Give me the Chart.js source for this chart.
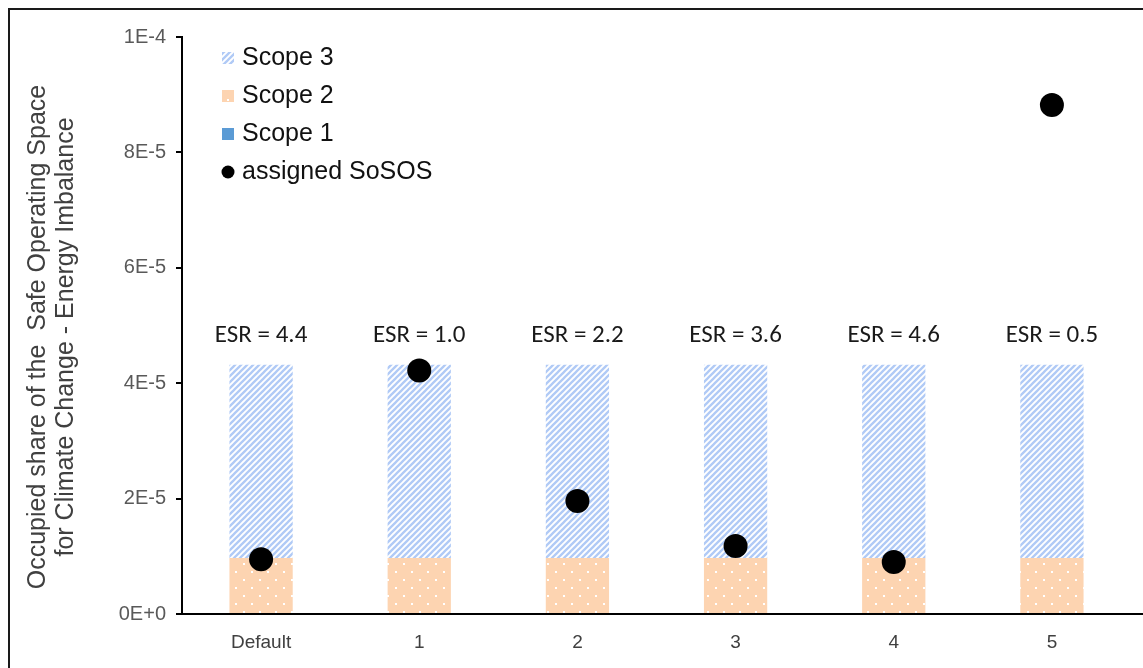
<!DOCTYPE html>
<html>
<head>
<meta charset="utf-8">
<script src="https://cdn.jsdelivr.net/npm/chart.js@4.4.1/dist/chart.umd.min.js"></script>
<style>
  html, body { margin: 0; padding: 0; background: #fff; overflow: hidden; }
  #frame { position: absolute; left: 8px; top: 8px; width: 1200px; height: 720px; border: 2px solid #1a1a1a; box-sizing: border-box; }
  #wrap { position: absolute; left: 0; top: 0; width: 1143px; height: 668px; }
</style>
</head>
<body>
<div id="frame"></div>
<div id="wrap"><canvas id="chart"></canvas></div>
<script>
// ── DATA ──────────────────────────────────────────────────────────────────────
const categories = ['Default', '1', '2', '3', '4', '5'];
const scope1     = [0, 0, 0, 0, 0, 0];
const scope2     = [9.7e-6, 9.7e-6, 9.7e-6, 9.7e-6, 9.7e-6, 9.7e-6];
const scope3     = [3.35e-5, 3.35e-5, 3.35e-5, 3.35e-5, 3.35e-5, 3.35e-5];
const sosos      = [9.5e-6, 4.22e-5, 1.96e-5, 1.18e-5, 9.0e-6, 8.82e-5];
const esr        = ['4.4', '1.0', '2.2', '3.6', '4.6', '0.5'];
const yTitle     = ['Occupied share of the  Safe Operating Space', 'for Climate Change - Energy Imbalance'];

const ARIAL = '"Liberation Sans", Arial, sans-serif';

// ── PATTERNS ──────────────────────────────────────────────────────────────────
function makeTile(w, h, draw) {
  const c = document.createElement('canvas');
  c.width = w; c.height = h;
  draw(c.getContext('2d'));
  return document.createElement('canvas').getContext('2d').createPattern(c, 'repeat');
}
const stripes = makeTile(6, 6, g => {
  g.fillStyle = '#ffffff'; g.fillRect(0, 0, 6, 6);
  g.strokeStyle = '#b0caf6'; g.lineWidth = 2.3;
  [[-1, 7, 7, -1], [-1, 1, 1, -1], [5, 7, 7, 5]].forEach(([x1, y1, x2, y2]) => {
    g.beginPath(); g.moveTo(x1, y1); g.lineTo(x2, y2); g.stroke();
  });
});
const dots = makeTile(16, 16, g => {
  g.fillStyle = '#fdd4b1'; g.fillRect(0, 0, 16, 16);
  g.fillStyle = '#ffffff';
  g.fillRect(3, 3, 2, 2);
  g.fillRect(11, 11, 2, 2);
});

// ── PLUGINS ───────────────────────────────────────────────────────────────────
const extras = {
  id: 'extras',
  afterDraw(chart) {
    const { ctx, scales: { x, y }, chartArea } = chart;
    ctx.save();

    // x axis runs on to the edge
    ctx.strokeStyle = '#000'; ctx.lineWidth = 2;
    ctx.beginPath(); ctx.moveTo(chartArea.right - 1, y.getPixelForValue(0)); ctx.lineTo(chart.width, y.getPixelForValue(0)); ctx.stroke();

    // ESR labels above each stack
    ctx.fillStyle = '#1a1a1a';
    ctx.font = '25px Carlito, Lato, "Liberation Sans", sans-serif';
    ctx.textAlign = 'center'; ctx.textBaseline = 'middle';
    categories.forEach((c, i) => {
      const top = y.getPixelForValue(scope1[i] + scope2[i] + scope3[i]);
      ctx.fillText('ESR = ' + esr[i], x.getPixelForValue(i), top - 29);
    });

    // y title
    ctx.fillStyle = '#404040';
    ctx.font = '25px ' + ARIAL;
    ctx.translate(38, 337); ctx.rotate(-Math.PI / 2);
    ctx.fillText(yTitle[0], 0, 0);
    ctx.fillText(yTitle[1], 0, 28);
    ctx.restore();

    // legend
    ctx.save();
    const order = [2, 1, 0, 3];
    ctx.font = '25px ' + ARIAL;
    ctx.textAlign = 'left'; ctx.textBaseline = 'middle';
    order.forEach((di, k) => {
      const ds = chart.data.datasets[di];
      const cy = 58 + k * 38;
      if (ds.type === 'line') {
        ctx.fillStyle = '#000';
        ctx.beginPath(); ctx.arc(228, cy, 6.5, 0, Math.PI * 2); ctx.fill();
      } else {
        ctx.fillStyle = ds.backgroundColor;
        ctx.fillRect(222, cy - 6, 12, 12);
      }
      ctx.fillStyle = '#111';
      ctx.fillText(ds.label, 242, cy);
    });
    ctx.restore();
  }
};

// ── CHART ─────────────────────────────────────────────────────────────────────
new Chart(document.getElementById('chart'), {
  type: 'bar',
  data: {
    labels: categories,
    datasets: [
      { label: 'Scope 1', data: scope1, backgroundColor: '#5b9bd5', stack: 's', order: 2 },
      { label: 'Scope 2', data: scope2, backgroundColor: dots, stack: 's', order: 2 },
      { label: 'Scope 3', data: scope3, backgroundColor: stripes, stack: 's', order: 2 },
      { label: 'assigned SoSOS', type: 'line', data: sosos, stack: 'p', showLine: false,
        pointRadius: 12, pointHoverRadius: 12, backgroundColor: '#000', borderColor: '#000', borderWidth: 0, order: 1 }
    ]
  },
  options: {
    responsive: true,
    maintainAspectRatio: false,
    animation: false,
    devicePixelRatio: 1,
    layout: { padding: { left: 0, right: 7, top: 37, bottom: 0 } },
    categoryPercentage: 0.4,
    barPercentage: 1,
    plugins: { legend: { display: false }, tooltip: { enabled: false } },
    scales: {
      x: {
        stacked: true,
        grid: { display: false },
        border: { color: '#000', width: 2 },
        ticks: { color: '#404040', font: { family: ARIAL, size: 19 }, padding: 9 },
        afterFit: s => { s.height = 668 - 614; }
      },
      y: {
        stacked: true,
        min: 0, max: 1e-4,
        grid: { drawOnChartArea: false, tickLength: 6, color: '#000', lineWidth: 2 },
        border: { color: '#000', width: 2 },
        ticks: {
          stepSize: 2e-5,
          color: '#595959',
          font: { family: ARIAL, size: 20 },
          padding: 10,
          callback: v => Number(v).toExponential(0).toUpperCase()
        },
        afterFit: s => { s.width = 182; }
      }
    }
  },
  plugins: [extras]
});
</script>
</body>
</html>
